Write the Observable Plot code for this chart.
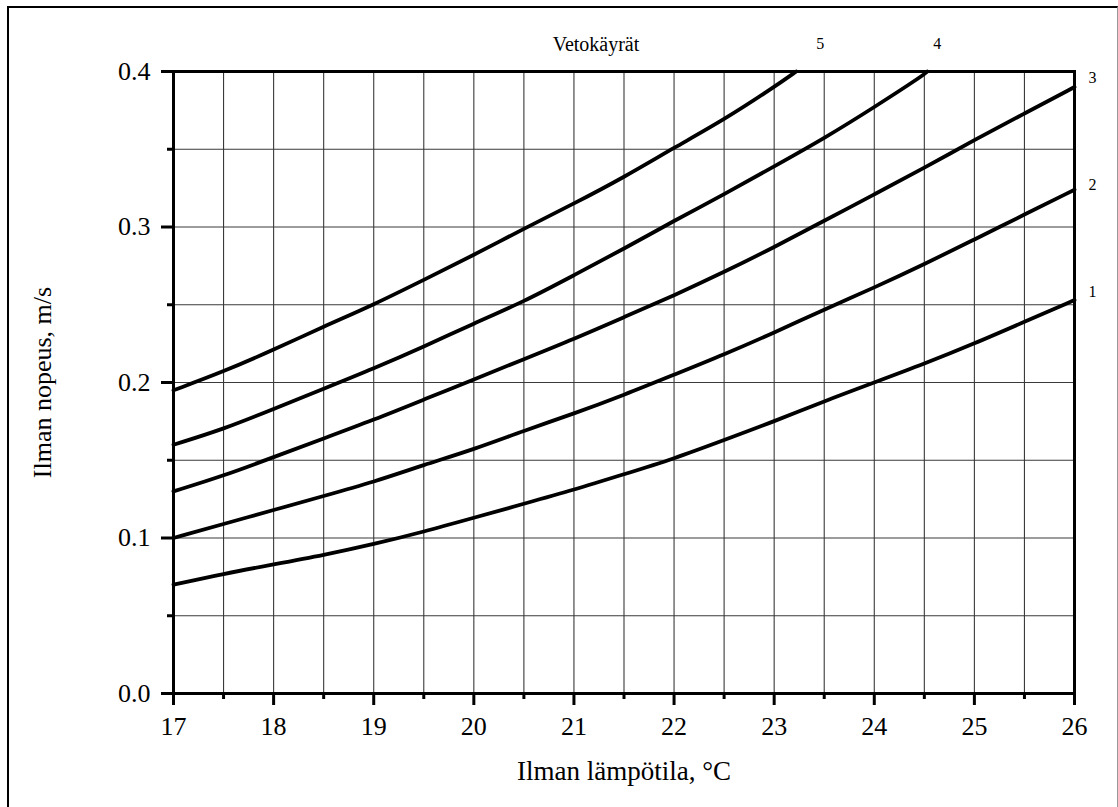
<!DOCTYPE html>
<html>
<head>
<meta charset="utf-8">
<script src="https://cdn.jsdelivr.net/npm/d3@7"></script>
<script src="https://cdn.jsdelivr.net/npm/@observablehq/plot@0.6"></script>
<style>
  html, body { margin: 0; padding: 0; background: #fff; overflow: hidden; }
  #wrap { position: relative; width: 1118px; height: 807px; }
  #border { position: absolute; left: 7px; top: 6px; width: 1111px; height: 820px;
            border-left: 2px solid #000; border-top: 2px solid #000; border-right: 1px solid #999; box-sizing: border-box; }
  #chart { position: absolute; left: 0; top: 0; }
  #chart svg text { font-family: 'Liberation Serif', 'Times New Roman', serif; font-variant: normal; }
</style>
</head>
<body>
<div id="wrap"><div id="border"></div><div id="chart"></div></div>
<script>
// ---- data ----
const temps = [17, 17.5, 18, 18.5, 19, 19.5, 20, 20.5, 21, 21.5, 22, 22.5, 23, 23.5, 24, 24.5, 25, 25.5, 26];
const v1 = [0.070, 0.077, 0.083, 0.089, 0.096, 0.104, 0.113, 0.122, 0.131, 0.141, 0.151, 0.163, 0.175, 0.188, 0.200, 0.212, 0.225, 0.239, 0.253];
const v2 = [0.100, 0.109, 0.118, 0.127, 0.136, 0.147, 0.157, 0.169, 0.180, 0.192, 0.205, 0.218, 0.232, 0.247, 0.261, 0.276, 0.292, 0.308, 0.324];
const v3 = [0.130, 0.140, 0.152, 0.164, 0.176, 0.189, 0.202, 0.215, 0.228, 0.242, 0.256, 0.271, 0.287, 0.304, 0.321, 0.338, 0.356, 0.373, 0.390];
const temps4 = [17, 17.5, 18, 18.5, 19, 19.5, 20, 20.5, 21, 21.5, 22, 22.5, 23, 23.5, 24, 24.5, 24.53];
const v4 = [0.160, 0.170, 0.183, 0.196, 0.209, 0.223, 0.238, 0.252, 0.269, 0.286, 0.304, 0.321, 0.339, 0.357, 0.377, 0.398, 0.400];
const temps5 = [17, 17.5, 18, 18.5, 19, 19.5, 20, 20.5, 21, 21.5, 22, 22.5, 23, 23.22];
const v5 = [0.195, 0.207, 0.221, 0.236, 0.250, 0.266, 0.282, 0.299, 0.315, 0.332, 0.351, 0.369, 0.390, 0.400];

const seriesNames = ["1", "2", "3", "4", "5"];
const labelX = [26.18, 26.18, 26.18, 24.63, 23.46];
const labelY = [0.258, 0.327, 0.396, 0.4175, 0.4175];
const titleText = "Vetokäyrät";
const titleX = 21.22, titleY = 0.4175;
const xLabel = "Ilman lämpötila, °C";
const yLabel = "Ilman nopeus, m/s";

const xTicks = [17, 18, 19, 20, 21, 22, 23, 24, 25, 26];
const xMinor = [17.5, 18.5, 19.5, 20.5, 21.5, 22.5, 23.5, 24.5, 25.5];
const yTicks = [0.0, 0.1, 0.2, 0.3, 0.4];
const yMinor = [0.05, 0.15, 0.25, 0.35];
const xGrid = [17.5, 18, 18.5, 19, 19.5, 20, 20.5, 21, 21.5, 22, 22.5, 23, 23.5, 24, 24.5, 25, 25.5];
const yGrid = [0.05, 0.1, 0.15, 0.2, 0.25, 0.3, 0.35];

// ---- build rows ----
const xs = [temps, temps, temps, temps4, temps5];
const vs = [v1, v2, v3, v4, v5];
const rows = [];
seriesNames.forEach((s, i) => xs[i].forEach((t, j) => rows.push({series: s, t, v: vs[i][j]})));
const labels = seriesNames.map((s, i) => ({s, x: labelX[i], y: labelY[i]}));

const serif = "'Liberation Serif', 'Times New Roman', serif";
const chart = Plot.plot({
  width: 1118,
  height: 807,
  marginLeft: 173,
  marginRight: 44,
  marginTop: 71,
  marginBottom: 114,
  x: {domain: [17, 26]},
  y: {domain: [0, 0.4]},
  style: {fontFamily: serif, color: "#000", background: "transparent", fontSize: "20px"},
  marks: [
    Plot.ruleX(xGrid, {stroke: "#3a3a3a", strokeWidth: 1.1}),
    Plot.ruleY(yGrid, {stroke: "#3a3a3a", strokeWidth: 1.1}),
    Plot.line(rows, {x: "t", y: "v", z: "series", curve: "basis", stroke: "#000", strokeWidth: 3.8}),
    Plot.frame({stroke: "#000", strokeWidth: 3}),
    Plot.axisX(xTicks, {tickSize: 12, tickPadding: 11, strokeWidth: 3, fontSize: 26, fontFamily: serif,
      tickFormat: d => String(d), label: null}),
    Plot.axisX(xMinor, {tickSize: 6, strokeWidth: 3, tickFormat: () => "", label: null}),
    Plot.axisY(yTicks, {tickSize: 12, tickPadding: 11, strokeWidth: 3, fontSize: 26, fontFamily: serif,
      tickFormat: d => d.toFixed(1), label: null}),
    Plot.axisY(yMinor, {tickSize: 6, strokeWidth: 3, tickFormat: () => "", label: null}),
    Plot.text([xLabel], {frameAnchor: "bottom", text: d => d, dy: 78, lineAnchor: "middle", textAnchor: "middle", fontSize: 27, fontFamily: serif}),
    Plot.text([yLabel], {frameAnchor: "left", text: d => d, rotate: -90, dx: -131, textAnchor: "middle", lineAnchor: "middle", fontSize: 26, fontFamily: serif}),
    Plot.text(labels, {x: "x", y: "y", text: "s", fontSize: 16, fontFamily: serif, clip: false}),
    Plot.text([titleText], {x: titleX, y: titleY, text: d => d, fontSize: 20, fontFamily: serif, clip: false})
  ]
});
document.getElementById("chart").appendChild(chart);
</script>
</body>
</html>
